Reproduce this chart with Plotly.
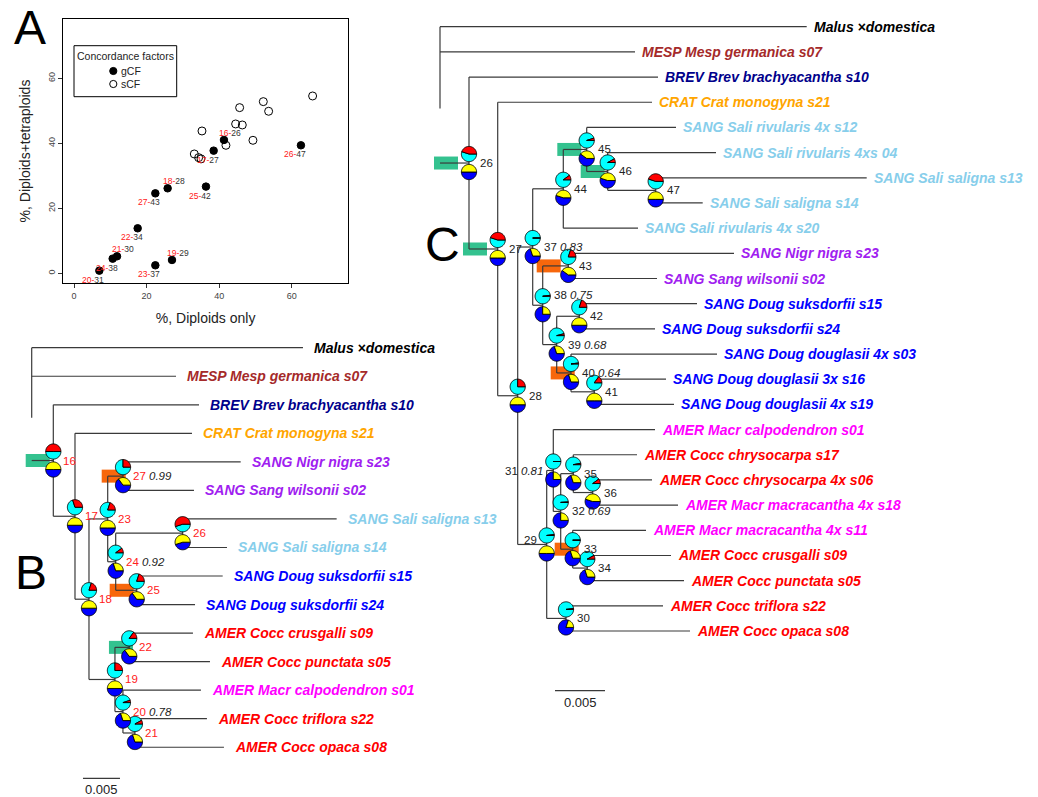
import math, re
import plotly.graph_objects as go

W, H = 1038, 797
FONT = "Liberation Sans, Arial, sans-serif"

# ---------------- Panel A data ----------------
gcf_x = [6.98, 10.65, 11.85, 17.54, 22.41, 27.0, 22.41, 25.8, 36.36, 38.48, 41.32, 62.53]
gcf_y = [0.82, 4.51, 5.23, 13.85, 2.46, 4.10, 24.6, 26.15, 26.67, 37.74, 41.03, 39.38]
pair_b = ["20", "24", "21", "22", "23", "19", "27", "18", "25", "17", "16", "26"]
pair_c = ["31", "38", "30", "34", "37", "29", "43", "28", "42", "27", "26", "47"]
label_side = ["bl", "bl", "tr", "bl", "bl", "tr", "bl", "tr", "bl", "bl", "tr", "bl"]
scf_x = [33.15, 34.34, 35.0, 35.26, 41.87, 44.54, 45.64, 46.37, 49.31, 52.16, 53.63, 65.75]
scf_y = [36.72, 35.59, 35.2, 43.79, 39.38, 45.95, 50.97, 45.64, 40.92, 52.82, 49.85, 54.56]
a_ticks = [0, 20, 40, 60]
legend_title = "Concordance factors"
legend_items = ["gCF", "sCF"]

# ---------------- Trees (Newick, branch lengths in substitutions/site) ----------------
tree_b = ("(MAL:0.03666,MESP:0.0195,(BREV:0.01969,(CRAT:0.01581,(((NIGR:0.0159,WILS:0.00959)27:0.00207,"
          "((S13:0.02081,S14:0.00599)26:0.00905,(S15:0.01162,S24:0.00788)25:0.00284)24:0.00108)23:0.00253,"
          "((S09:0.00861,S05:0.01091)22:0.00193,(S01:0.01054,(S22:0.00973,S08:0.01203)21:0.00162)20:0.00108)19:0.00351)"
          "18:0.00189)17:0.00293)16:0.00292);")
tree_c = ("(MAL:0.03667,MESP:0.0195,(BREV:0.0189,(CRAT:0.01543,((((S12:0.00893,(S04:0.01083,(S13:0.0211,S14:0.0047)47:0.0048)"
          "46:0.0021)45:0.00234,S20:0.00747)44:0.00306,((NIGR:0.01657,WILS:0.00887)43:0.00256,((S15:0.01177,S24:0.00757)42:0.00226,"
          "(S03:0.0146,(S16:0.00717,S19:0.00797)41:0.00233)40:0.00143)39:0.0014)38:0.001)37:0.0015,((S01:0.01017,"
          "((S17:0.00637,(S06:0.00593,S18:0.00853)36:0.00194)35:0.00126,(S11:0.00733,(S09:0.00837,S05:0.00967)34:0.00146)33:0.0012)"
          "32:0.00074)31:0.00066,(S22:0.0097,S08:0.0124)30:0.00193)29:0.0029)28:0.002)27:0.00287)26:0.0029);")

tip_names = {
    "MAL": "Malus ×domestica", "MESP": "MESP Mesp germanica s07", "BREV": "BREV Brev brachyacantha s10",
    "CRAT": "CRAT Crat monogyna s21", "NIGR": "SANG Nigr nigra s23", "WILS": "SANG Sang wilsonii s02",
    "S12": "SANG Sali rivularis 4x s12", "S04": "SANG Sali rivularis 4xs 04", "S13": "SANG Sali saligna s13",
    "S14": "SANG Sali saligna s14", "S20": "SANG Sali rivularis 4x s20", "S15": "SANG Doug suksdorfii s15",
    "S24": "SANG Doug suksdorfii s24", "S03": "SANG Doug douglasii 4x s03", "S16": "SANG Doug douglasii 3x s16",
    "S19": "SANG Doug douglasii 4x s19", "S01": "AMER Macr calpodendron s01", "S17": "AMER Cocc chrysocarpa s17",
    "S06": "AMER Cocc chrysocarpa 4x s06", "S18": "AMER Macr macracantha 4x s18", "S11": "AMER Macr macracantha 4x s11",
    "S09": "AMER Cocc crusgalli s09", "S05": "AMER Cocc punctata s05", "S22": "AMER Cocc triflora s22",
    "S08": "AMER Cocc opaca s08",
}
group_colors = {"Malus": "#000000", "MESP": "#A52A2A", "BREV": "#00008B", "CRAT": "#FFA500",
                "SANG Nigr": "#A020F0", "SANG Sang": "#A020F0", "SANG Sali": "#87CEEB",
                "SANG Doug": "#0000FF", "AMER Cocc": "#FF0000", "AMER Macr": "#FF00FF"}

# pie fractions: top pie red share (rest cyan), bottom pie yellow share (rest blue)
red_b = {"16": 0.5, "17": 0.3, "23": 0.2, "27": 0.25, "24": 0.1, "26": 0.55, "25": 0.2, "18": 0.2,
         "22": 0.15, "19": 0.25, "20": 0.05, "21": 0.08}
yel_b = {"16": 0.5, "17": 0.5, "23": 0.5, "27": 0.35, "24": 0.3, "26": 0.55, "25": 0.35, "18": 0.5,
         "22": 0.35, "19": 0.5, "20": 0.3, "21": 0.3}
red_c = {"26": 0.45, "27": 0.45, "28": 0.25, "37": 0.0, "44": 0.1, "45": 0.05, "46": 0.08, "47": 0.45,
         "38": 0.02, "43": 0.2, "39": 0.04, "42": 0.2, "40": 0.02, "41": 0.15, "29": 0.02, "31": 0.0,
         "32": 0.01, "35": 0.03, "36": 0.1, "33": 0.0, "34": 0.08, "30": 0.02}
yel_c = {"26": 0.5, "27": 0.5, "28": 0.5, "37": 0.3, "44": 0.45, "45": 0.4, "46": 0.45, "47": 0.5,
         "38": 0.25, "43": 0.4, "39": 0.3, "42": 0.5, "40": 0.3, "41": 0.5, "29": 0.5, "31": 0.25,
         "32": 0.25, "35": 0.3, "36": 0.45, "33": 0.3, "34": 0.3, "30": 0.2}
support_b = {"27": "0.99", "24": "0.92", "20": "0.78"}
support_c = {"37": "0.83", "38": "0.75", "39": "0.68", "40": "0.64", "31": "0.81", "32": "0.69"}
rect_b = {"16": "g", "27": "o", "25": "o", "22": "g"}
rect_c = {"26": "g", "27": "g", "45": "g", "46": "g", "43": "o", "40": "o", "33": "o"}
scale_len = 0.005

GREEN, ORANGE = "#34C28F", "#F7670C"
CYAN, RED, YELLOW, BLUE = "#00FFFF", "#FF0000", "#FFFF00", "#0000FF"
LINE = "#3a3a3a"


def parse_newick(s):
    s = s.strip().rstrip(";")
    pos = [0]

    def node():
        n = {"children": [], "name": "", "len": 0.0}
        if s[pos[0]] == "(":
            pos[0] += 1
            while True:
                n["children"].append(node())
                ch = s[pos[0]]
                pos[0] += 1
                if ch == ")":
                    break
        m = re.match(r"[^:,();]*", s[pos[0]:])
        n["name"] = m.group(0)
        pos[0] += len(n["name"])
        if pos[0] < len(s) and s[pos[0]] == ":":
            pos[0] += 1
            m = re.match(r"[0-9.eE+-]+", s[pos[0]:])
            n["len"] = float(m.group(0))
            pos[0] += len(m.group(0))
        return n
    return node()


def layout_tree(root):
    counter = [0]
    nodes = []

    def rec(n, px, parent):
        n["x"] = px + n["len"]
        n["parent"] = parent
        for c in n["children"]:
            rec(c, n["x"], n)
        if n["children"]:
            n["y"] = (n["children"][0]["y"] + n["children"][-1]["y"]) / 2
        else:
            n["y"] = counter[0]
            counter[0] += 1
        nodes.append(n)
    rec(root, 0.0, None)
    return nodes


def wedge_path(a0, a1, r, cy):
    steps = max(2, int(abs(a1 - a0) / 5) + 1)
    pts = [(0.0, cy)]
    for k in range(steps + 1):
        t = math.radians(a0 + (a1 - a0) * k / steps)
        pts.append((r * math.cos(t), cy + r * math.sin(t)))
    return "M " + " L ".join(f"{x:.2f},{y:.2f}" for x, y in pts) + " Z"


def tip_color(label):
    for k, v in group_colors.items():
        if label.startswith(k):
            return v
    return "#000000"


fig = go.Figure()
shapes, annotations = [], []


def draw_tree(newick, xa, ya, reds, yels, supports, rects, num_color, num_shift, tip_shift, left_nodes,
              label_dy, root_frac, scale_pos, scale_font):
    root = parse_newick(newick)
    nodes = layout_tree(root)
    xs, ys = [], []
    for n in nodes:
        if n["parent"] is not None:
            xs += [n["parent"]["x"], n["x"], None]
            ys += [n["y"], n["y"], None]
        if n["children"]:
            y0 = n["children"][0]["y"]
            y1 = n["children"][-1]["y"]
            if n["parent"] is None:
                y1 = y0 + root_frac * (y1 - y0)
            xs += [n["x"], n["x"], None]
            ys += [y0, y1, None]
    fig.add_trace(go.Scatter(x=xs, y=ys, mode="lines", line=dict(color=LINE, width=1.2),
                             xaxis=xa, yaxis=ya, showlegend=False, hoverinfo="skip"))
    for n in nodes:
        if not n["children"]:
            lab = tip_names[n["name"]]
            annotations.append(dict(x=n["x"], y=n["y"], xref=xa, yref=ya, text=f"<b><i>{lab}</i></b>",
                                    showarrow=False, xanchor="left", yanchor="middle", xshift=tip_shift,
                                    font=dict(family=FONT, size=14, color=tip_color(lab))))
            continue
        name = n["name"]
        if name in rects:
            shapes.append(dict(type="rect", xref=xa, yref=ya, xsizemode="pixel", ysizemode="pixel",
                               xanchor=n["parent"]["x"], yanchor=n["y"], x0=-6, x1=18, y0=-6.5, y1=6.5,
                               fillcolor=GREEN if rects[name] == "g" else ORANGE, line=dict(width=0),
                               layer="below"))
        if name in reds:
            for frac, c1, c2, cy in ((reds[name], RED, CYAN, 9), (yels[name], YELLOW, BLUE, -9)):
                a = 360 * frac
                shapes.append(dict(type="path", xref=xa, yref=ya, xsizemode="pixel", ysizemode="pixel",
                                   xanchor=n["x"], yanchor=n["y"], path=wedge_path(a, 360, 7.6, cy),
                                   fillcolor=c2, line=dict(color="black", width=0.9), layer="above"))
                shapes.append(dict(type="path", xref=xa, yref=ya, xsizemode="pixel", ysizemode="pixel",
                                   xanchor=n["x"], yanchor=n["y"], path=wedge_path(0, a, 7.6, cy),
                                   fillcolor=c1, line=dict(color="black", width=0.9), layer="above"))
            txt = f"<span style='color:{num_color}'>{name}</span>"
            if name in supports:
                txt += f" <i>{supports[name]}</i>"
            left = name in left_nodes
            annotations.append(dict(x=n["x"], y=n["y"], xref=xa, yref=ya, text=txt, showarrow=False,
                                    xanchor="right" if left else "left", yanchor="middle",
                                    xshift=-8 if left else num_shift, yshift=label_dy.get(name, 0),
                                    font=dict(family=FONT, size=11.5, color="#222222")))
    sx, sy = scale_pos
    fig.add_trace(go.Scatter(x=[sx, sx + scale_len], y=[sy, sy], mode="lines",
                             line=dict(color=LINE, width=1.2), xaxis=xa, yaxis=ya,
                             showlegend=False, hoverinfo="skip"))
    annotations.append(dict(x=sx + scale_len / 2, y=sy, xref=xa, yref=ya, text=str(scale_len),
                            showarrow=False, xanchor="center", yanchor="top", yshift=-2,
                            font=dict(family=FONT, size=scale_font, color="#222222")))


def xr(origin_px, ppu):
    lo = -origin_px / ppu
    return [lo, lo + W / ppu]


def yr(origin_px, spacing):
    lo = -origin_px / spacing
    return [lo + H / spacing, lo]


draw_tree(tree_b, "x2", "y2", red_b, yel_b, support_b, rect_b, "#FF2020", 8, 9, set(), {},
          0.62, (0.00693, 15.09), 13)
draw_tree(tree_c, "x3", "y3", red_c, yel_c, support_c, rect_c, "#222222", 9, 5, {"31", "29"},
          {"38": 10, "29": 4}, 0.6, (0.0115, 26.37), 13)

# ---------------- Panel A ----------------
fig.add_trace(go.Scatter(x=gcf_x, y=gcf_y, mode="markers", name=legend_items[0],
                         marker=dict(symbol="circle", size=7.5, color="black", line=dict(color="black", width=1)),
                         xaxis="x", yaxis="y", hoverinfo="skip", showlegend=False))
fig.add_trace(go.Scatter(x=scf_x, y=scf_y, mode="markers", name=legend_items[1],
                         marker=dict(symbol="circle-open", size=8, color="black", line=dict(width=1)),
                         xaxis="x", yaxis="y", hoverinfo="skip", showlegend=False))
for x, y, b, c, side in zip(gcf_x, gcf_y, pair_b, pair_c, label_side):
    dx, dy = (-6, -9) if side == "bl" else (6, 7)
    annotations.append(dict(x=x, y=y, xref="x", yref="y", showarrow=False, xshift=dx, yshift=dy,
                            xanchor="center", yanchor="middle",
                            text=f"<span style='color:#FF2020'>{b}-</span>{c}",
                            font=dict(family=FONT, size=8.5, color="#333333")))


def px2x(p):
    return p / W


def px2y(p):
    return 1 - p / H


# legend box (paper coordinates)
shapes.append(dict(type="rect", xref="paper", yref="paper", x0=px2x(74), x1=px2x(176.7), y0=px2y(96.7),
                   y1=px2y(45.7), line=dict(color="black", width=1), fillcolor="white", layer="above"))
annotations.append(dict(x=px2x(125.5), y=px2y(55.5), xref="paper", yref="paper", text=legend_title,
                        showarrow=False, xanchor="center", yanchor="middle",
                        font=dict(family=FONT, size=10.5, color="#222")))
for i, (item, filled) in enumerate(zip(legend_items, [True, False])):
    cy = 71 + 13 * i
    shapes.append(dict(type="circle", xref="paper", yref="paper", xsizemode="pixel", ysizemode="pixel",
                       xanchor=px2x(113.3), yanchor=px2y(cy), x0=-3.6, x1=3.6, y0=-3.6, y1=3.6,
                       fillcolor="black" if filled else "white", line=dict(color="black", width=1),
                       layer="above"))
    annotations.append(dict(x=px2x(119), y=px2y(cy), xref="paper", yref="paper", text=item, showarrow=False,
                            xanchor="left", yanchor="middle", font=dict(family=FONT, size=10.5, color="#222")))

for letter, px, py in (("A", 30, 28), ("B", 31, 572), ("C", 442, 245)):
    annotations.append(dict(x=px2x(px), y=px2y(py), xref="paper", yref="paper", text=letter, showarrow=False,
                            xanchor="center", yanchor="middle", font=dict(family=FONT, size=48, color="black")))

axA = dict(showline=True, mirror=True, linecolor="black", linewidth=1, ticks="outside", ticklen=4,
           tickcolor="#333", tickfont=dict(family=FONT, size=9, color="#444"), showgrid=False,
           zeroline=False, tickvals=a_ticks)
hidden = dict(visible=False, showgrid=False, zeroline=False)

fig.update_layout(
    width=W, height=H, margin=dict(l=0, r=0, t=0, b=0), plot_bgcolor="rgba(0,0,0,0)", paper_bgcolor="white",
    xaxis=dict(axA, domain=[63.3 / W, 348 / W], range=[-2.95, 75.5], anchor="y",
               title=dict(text="%, Diploids only", font=dict(family=FONT, size=14, color="#222"), standoff=13)),
    yaxis=dict(axA, domain=[1 - 282.7 / H, 1 - 19.3 / H], range=[-2.89, 78.15], anchor="x", tickangle=-90,
               title=dict(text="%, Diploids+tetraploids", font=dict(family=FONT, size=14, color="#222"),
                          standoff=12)),
    xaxis2=dict(hidden, domain=[0, 1], range=xr(31.7, 7400), anchor="y2"),
    yaxis2=dict(hidden, domain=[0, 1], range=yr(347.7, 28.54), anchor="x2"),
    xaxis3=dict(hidden, domain=[0, 1], range=xr(440, 10000), anchor="y3"),
    yaxis3=dict(hidden, domain=[0, 1], range=yr(26.7, 25.18), anchor="x3"),
    shapes=shapes, annotations=annotations, showlegend=False,
)

fig.write_html("out.html", config={"displayModeBar": False},
               post_script="document.body.style.margin='0';")
